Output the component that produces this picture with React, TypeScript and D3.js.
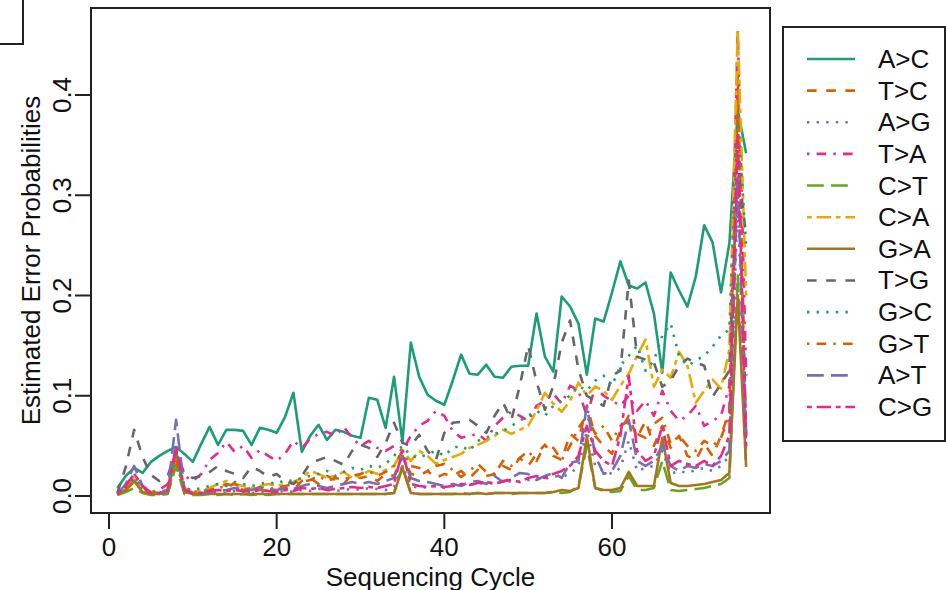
import React from 'react';
import * as d3 from 'd3';

// sequencing cycles 1..76
const cycles = [
  1, 2, 3, 4, 5, 6, 7, 8, 9, 10, 11, 12, 13, 14, 15, 16, 17, 18, 19, 20,
  21, 22, 23, 24, 25, 26, 27, 28, 29, 30, 31, 32, 33, 34, 35, 36, 37, 38, 39, 40,
  41, 42, 43, 44, 45, 46, 47, 48, 49, 50, 51, 52, 53, 54, 55, 56, 57, 58, 59, 60,
  61, 62, 63, 64, 65, 66, 67, 68, 69, 70, 71, 72, 73, 74, 75, 76,
];

const labels = ['A>C', 'T>C', 'A>G', 'T>A', 'C>T', 'C>A', 'G>A', 'T>G', 'G>C', 'G>T', 'A>T', 'C>G'];

const acValues = [
  0.008, 0.020, 0.028, 0.023, 0.034, 0.040, 0.045, 0.049, 0.042, 0.034,
  0.052, 0.069, 0.051, 0.066, 0.066, 0.065, 0.051, 0.068, 0.066, 0.063,
  0.079, 0.103, 0.044, 0.060, 0.071, 0.056, 0.066, 0.064, 0.060, 0.058,
  0.098, 0.096, 0.068, 0.119, 0.054, 0.153, 0.119, 0.101, 0.095, 0.091,
  0.115, 0.141, 0.122, 0.121, 0.131, 0.119, 0.118, 0.129, 0.130, 0.130,
  0.182, 0.139, 0.124, 0.199, 0.189, 0.172, 0.121, 0.177, 0.174, 0.203,
  0.234, 0.210, 0.207, 0.213, 0.182, 0.123, 0.223, 0.205, 0.189, 0.219,
  0.270, 0.253, 0.203, 0.252, 0.385, 0.342,
];
const tcValues = [
  0.002, 0.006, 0.015, 0.006, 0.003, 0.003, 0.004, 0.040, 0.005, 0.003,
  0.004, 0.006, 0.008, 0.012, 0.010, 0.006, 0.008, 0.006, 0.005, 0.007,
  0.008, 0.006, 0.015, 0.018, 0.012, 0.020, 0.016, 0.012, 0.022, 0.018,
  0.020, 0.015, 0.022, 0.020, 0.040, 0.022, 0.020, 0.025, 0.018, 0.022,
  0.020, 0.025, 0.018, 0.026, 0.020, 0.022, 0.030, 0.026, 0.038, 0.030,
  0.042, 0.051, 0.040, 0.036, 0.062, 0.055, 0.090, 0.060, 0.050, 0.042,
  0.065, 0.080, 0.058, 0.075, 0.050, 0.070, 0.048, 0.060, 0.040, 0.036,
  0.052, 0.040, 0.060, 0.085, 0.420, 0.060,
];
const agValues = [
  0.001, 0.008, 0.020, 0.006, 0.002, 0.002, 0.003, 0.035, 0.004, 0.002,
  0.002, 0.003, 0.004, 0.003, 0.005, 0.004, 0.003, 0.004, 0.003, 0.004,
  0.005, 0.004, 0.006, 0.005, 0.007, 0.006, 0.005, 0.006, 0.007, 0.006,
  0.008, 0.007, 0.006, 0.009, 0.030, 0.010, 0.008, 0.009, 0.010, 0.008,
  0.010, 0.012, 0.011, 0.013, 0.012, 0.014, 0.013, 0.015, 0.014, 0.016,
  0.018, 0.017, 0.020, 0.019, 0.022, 0.030, 0.065, 0.030, 0.025, 0.022,
  0.028, 0.055, 0.025, 0.028, 0.030, 0.045, 0.022, 0.025, 0.023, 0.026,
  0.028, 0.025, 0.030, 0.040, 0.300, 0.040,
];
const taValues = [
  0.002, 0.010, 0.022, 0.010, 0.004, 0.006, 0.012, 0.030, 0.020, 0.015,
  0.022, 0.036, 0.043, 0.054, 0.044, 0.050, 0.038, 0.046, 0.040, 0.035,
  0.042, 0.055, 0.048, 0.057, 0.062, 0.064, 0.060, 0.069, 0.058, 0.050,
  0.055, 0.048, 0.045, 0.050, 0.045, 0.060, 0.070, 0.075, 0.085, 0.080,
  0.065, 0.058, 0.060, 0.062, 0.055, 0.070, 0.078, 0.084, 0.080, 0.075,
  0.090, 0.095, 0.102, 0.092, 0.110, 0.105, 0.080, 0.109, 0.100, 0.095,
  0.090, 0.100, 0.085, 0.095, 0.080, 0.105, 0.085, 0.075, 0.080, 0.090,
  0.070, 0.075, 0.080, 0.110, 0.465, 0.120,
];
const ctValues = [
  0.001, 0.004, 0.008, 0.003, 0.001, 0.001, 0.002, 0.030, 0.002, 0.001,
  0.001, 0.002, 0.001, 0.002, 0.001, 0.002, 0.001, 0.002, 0.001, 0.002,
  0.002, 0.002, 0.002, 0.002, 0.002, 0.002, 0.002, 0.002, 0.002, 0.002,
  0.002, 0.002, 0.002, 0.003, 0.030, 0.003, 0.002, 0.002, 0.002, 0.002,
  0.002, 0.003, 0.002, 0.003, 0.002, 0.003, 0.003, 0.002, 0.003, 0.003,
  0.003, 0.003, 0.004, 0.003, 0.004, 0.010, 0.050, 0.008, 0.005, 0.004,
  0.005, 0.020, 0.006, 0.006, 0.008, 0.035, 0.006, 0.005, 0.006, 0.007,
  0.008, 0.010, 0.012, 0.018, 0.220, 0.030,
];
const caValues = [
  0.002, 0.006, 0.018, 0.008, 0.004, 0.004, 0.006, 0.040, 0.008, 0.004,
  0.005, 0.008, 0.012, 0.015, 0.012, 0.010, 0.008, 0.010, 0.012, 0.010,
  0.012, 0.014, 0.018, 0.025, 0.022, 0.018, 0.020, 0.024, 0.018, 0.020,
  0.025, 0.022, 0.026, 0.030, 0.046, 0.035, 0.045, 0.040, 0.032, 0.036,
  0.039, 0.042, 0.048, 0.051, 0.055, 0.060, 0.066, 0.062, 0.066, 0.070,
  0.085, 0.103, 0.092, 0.084, 0.095, 0.113, 0.100, 0.109, 0.105, 0.096,
  0.110, 0.122, 0.140, 0.156, 0.109, 0.126, 0.118, 0.144, 0.130, 0.093,
  0.105, 0.116, 0.107, 0.146, 0.465, 0.200,
];
const gaValues = [
  0.002, 0.006, 0.015, 0.004, 0.002, 0.002, 0.003, 0.045, 0.004, 0.002,
  0.002, 0.002, 0.002, 0.002, 0.002, 0.002, 0.002, 0.002, 0.002, 0.002,
  0.002, 0.002, 0.002, 0.002, 0.002, 0.002, 0.002, 0.002, 0.002, 0.002,
  0.002, 0.002, 0.002, 0.003, 0.028, 0.003, 0.002, 0.002, 0.002, 0.002,
  0.002, 0.002, 0.002, 0.003, 0.002, 0.003, 0.003, 0.003, 0.003, 0.003,
  0.003, 0.003, 0.004, 0.006, 0.005, 0.008, 0.059, 0.008, 0.006, 0.006,
  0.008, 0.024, 0.010, 0.010, 0.010, 0.058, 0.013, 0.010, 0.010, 0.011,
  0.012, 0.014, 0.016, 0.023, 0.200, 0.029,
];
const tgValues = [
  0.003, 0.029, 0.066, 0.039, 0.021, 0.015, 0.020, 0.045, 0.022, 0.018,
  0.020, 0.024, 0.030, 0.025, 0.022, 0.018, 0.029, 0.025, 0.019, 0.022,
  0.015, 0.012, 0.020, 0.033, 0.036, 0.039, 0.035, 0.031, 0.045, 0.051,
  0.048, 0.039, 0.053, 0.073, 0.053, 0.050, 0.061, 0.045, 0.036, 0.063,
  0.073, 0.074, 0.076, 0.070, 0.063, 0.080, 0.093, 0.076, 0.110, 0.150,
  0.114, 0.086, 0.110, 0.153, 0.175, 0.126, 0.100, 0.095, 0.090, 0.120,
  0.125, 0.215, 0.139, 0.136, 0.133, 0.109, 0.115, 0.130, 0.137, 0.133,
  0.130, 0.099, 0.112, 0.125, 0.330, 0.260,
];
const gcValues = [
  0.002, 0.008, 0.018, 0.008, 0.004, 0.004, 0.006, 0.040, 0.008, 0.006,
  0.008, 0.010, 0.012, 0.010, 0.014, 0.012, 0.010, 0.012, 0.014, 0.012,
  0.016, 0.015, 0.018, 0.020, 0.022, 0.025, 0.020, 0.024, 0.028, 0.026,
  0.030, 0.028, 0.032, 0.040, 0.050, 0.040, 0.038, 0.042, 0.045, 0.040,
  0.048, 0.050, 0.045, 0.055, 0.058, 0.062, 0.065, 0.070, 0.075, 0.080,
  0.085, 0.080, 0.090, 0.095, 0.100, 0.110, 0.105, 0.115, 0.120, 0.110,
  0.130, 0.140, 0.150, 0.125, 0.135, 0.160, 0.172, 0.140, 0.130, 0.135,
  0.140, 0.149, 0.160, 0.166, 0.380, 0.250,
];
const gtValues = [
  0.002, 0.006, 0.014, 0.005, 0.003, 0.003, 0.004, 0.035, 0.005, 0.004,
  0.005, 0.006, 0.008, 0.010, 0.012, 0.008, 0.006, 0.009, 0.007, 0.008,
  0.010, 0.012, 0.014, 0.016, 0.020, 0.015, 0.018, 0.016, 0.020, 0.022,
  0.025, 0.020, 0.024, 0.030, 0.045, 0.030, 0.028, 0.025, 0.030, 0.032,
  0.026, 0.019, 0.025, 0.032, 0.024, 0.022, 0.035, 0.030, 0.038, 0.045,
  0.035, 0.051, 0.048, 0.036, 0.050, 0.068, 0.080, 0.062, 0.070, 0.055,
  0.070, 0.075, 0.062, 0.058, 0.072, 0.078, 0.052, 0.060, 0.050, 0.045,
  0.055, 0.050, 0.058, 0.080, 0.380, 0.060,
];
const atValues = [
  0.002, 0.012, 0.030, 0.010, 0.003, 0.003, 0.005, 0.076, 0.006, 0.003,
  0.003, 0.004, 0.005, 0.006, 0.008, 0.007, 0.006, 0.008, 0.007, 0.006,
  0.008, 0.007, 0.010, 0.012, 0.010, 0.008, 0.010, 0.012, 0.014, 0.012,
  0.014, 0.012, 0.015, 0.018, 0.040, 0.018, 0.015, 0.014, 0.012, 0.010,
  0.012, 0.010, 0.014, 0.015, 0.012, 0.020, 0.014, 0.018, 0.023, 0.022,
  0.016, 0.020, 0.023, 0.018, 0.033, 0.035, 0.090, 0.040, 0.022, 0.025,
  0.040, 0.076, 0.035, 0.030, 0.035, 0.050, 0.030, 0.025, 0.030, 0.028,
  0.032, 0.030, 0.035, 0.045, 0.320, 0.050,
];
const cgValues = [
  0.002, 0.010, 0.022, 0.010, 0.003, 0.003, 0.006, 0.050, 0.006, 0.003,
  0.003, 0.005, 0.006, 0.005, 0.006, 0.005, 0.004, 0.006, 0.005, 0.004,
  0.006, 0.005, 0.008, 0.007, 0.008, 0.006, 0.007, 0.008, 0.009, 0.008,
  0.009, 0.008, 0.010, 0.012, 0.045, 0.012, 0.010, 0.009, 0.010, 0.009,
  0.010, 0.012, 0.011, 0.013, 0.014, 0.012, 0.015, 0.016, 0.014, 0.018,
  0.020, 0.018, 0.022, 0.025, 0.030, 0.040, 0.070, 0.045, 0.035, 0.030,
  0.060, 0.120, 0.045, 0.035, 0.040, 0.070, 0.030, 0.035, 0.032, 0.030,
  0.035, 0.030, 0.040, 0.060, 0.360, 0.050,
];

const seriesValues = [
  acValues, tcValues, agValues, taValues, ctValues, caValues,
  gaValues, tgValues, gcValues, gtValues, atValues, cgValues,
];

const xTicks = [0, 20, 40, 60];
const yTicks = [0, 0.1, 0.2, 0.3, 0.4];

// Dark2 palette, recycled like R's matplot
const palette = ['#1B9E77', '#D95F02', '#7570B3', '#E7298A', '#66A61E', '#E6AB02', '#A6761D', '#666666'];
// R lty 1..6 scaled by line width
const u = 2.4;
const dashes = [
  'none',
  `${4 * u} ${4 * u}`,
  `${1 * u} ${3 * u}`,
  `${1 * u} ${3 * u} ${4 * u} ${3 * u}`,
  `${7 * u} ${3 * u}`,
  `${2 * u} ${2 * u} ${6 * u} ${2 * u}`,
];

const font = "'Liberation Sans', Arial, Helvetica, sans-serif";

const App = () => {
  const box = { left: 91, top: 8, right: 770, bottom: 513 };

  const x = d3.scaleLinear().domain([0, 60]).range([109, 612]);
  const y = d3.scaleLinear().domain([0, 0.4]).range([496, 95]);

  const line = d3.line<number>()
    .x((_, i) => x(cycles[i]))
    .y(d => y(d));

  const legend = { left: 783, top: 27, right: 945, bottom: 441 };
  const legendRow = d3.scaleLinear().domain([0, 11]).range([59, 407]);

  return (
    <svg width={946} height={590} style={{ position: 'absolute', left: 0, top: 0, background: '#fff' }}>
      <rect x={0} y={0} width={946} height={590} fill="#fff" />

      {/* edge of neighbouring panel */}
      <path d="M23,0 V44 H0" fill="none" stroke="#222" strokeWidth={2} />

      <g>
        {seriesValues.map((vals, i) => (
          <path
            key={labels[i]}
            d={line(vals) || ''}
            fill="none"
            stroke={palette[i % 8]}
            strokeWidth={2.6}
            strokeDasharray={dashes[i % 6]}
            strokeLinejoin="round"
          />
        ))}
      </g>

      <rect x={box.left} y={box.top} width={box.right - box.left} height={box.bottom - box.top}
        fill="none" stroke="#222" strokeWidth={2} />

      {/* x axis */}
      <g fontFamily={font} fontSize={26} fill="#111">
        {xTicks.map(t => (
          <g key={t}>
            <line x1={x(t)} x2={x(t)} y1={box.bottom} y2={box.bottom + 16} stroke="#222" strokeWidth={2} />
            <text x={x(t)} y={556} textAnchor="middle">{t}</text>
          </g>
        ))}
        <text x={(box.left + box.right) / 2} y={586} textAnchor="middle">Sequencing Cycle</text>
      </g>

      {/* y axis */}
      <g fontFamily={font} fontSize={26} fill="#111">
        {yTicks.map(t => (
          <g key={t}>
            <line x1={box.left - 16} x2={box.left} y1={y(t)} y2={y(t)} stroke="#222" strokeWidth={2} />
            <text transform={`translate(71,${y(t)}) rotate(-90)`} textAnchor="middle">{t.toFixed(1)}</text>
          </g>
        ))}
        <text transform={`translate(40,${(box.top + box.bottom) / 2}) rotate(-90)`} textAnchor="middle">
          Estimated Error Probabilities
        </text>
      </g>

      {/* legend */}
      <g fontFamily={font} fontSize={26} fill="#111">
        <rect x={legend.left} y={legend.top} width={legend.right - legend.left} height={legend.bottom - legend.top}
          fill="#fff" stroke="#222" strokeWidth={2} />
        {labels.map((lab, i) => (
          <g key={lab}>
            <line x1={807} x2={855} y1={legendRow(i)} y2={legendRow(i)}
              stroke={palette[i % 8]} strokeWidth={2.6} strokeDasharray={dashes[i % 6]} />
            <text x={878} y={legendRow(i) + 9}>{lab}</text>
          </g>
        ))}
      </g>
    </svg>
  );
};

export default App;
